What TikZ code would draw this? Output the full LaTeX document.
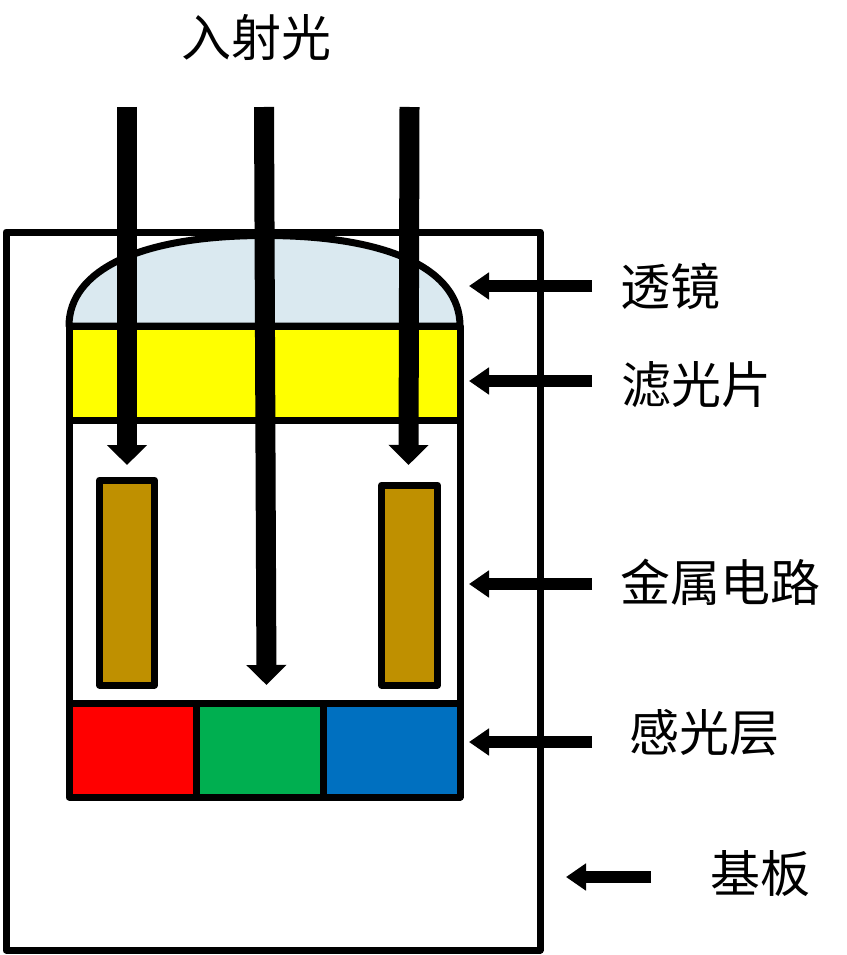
\documentclass[tikz,border=0pt]{standalone}
\usepackage{fontspec}
\setmainfont{Noto Sans CJK SC}
\usetikzlibrary{arrows.meta}
\definecolor{lensc}{HTML}{DAE9F0}
\definecolor{metalc}{HTML}{BF9000}
\definecolor{greenc}{HTML}{00AF50}
\definecolor{bluec}{HTML}{0070C0}
\definecolor{filterc}{HTML}{FFFF00}
\definecolor{redc}{HTML}{FF0000}
\tikzset{
  part/.style={draw=black,line width=7pt,line join=round},
  ray/.style={line width=20pt,-{Triangle[width=39pt,length=20pt]}},
  pointer/.style={line width=12pt,-{Triangle[width=26pt,length=20pt]}},
  lbl/.style={inner sep=0pt,font=\fontsize{50pt}{50pt}\selectfont,text=black}
}
\begin{document}
\begin{tikzpicture}[x=1pt,y=-1pt]
\useasboundingbox (0,0) rectangle (846,955);
\fill[white] (0,0) rectangle (846,955);
% substrate
\node[part,fill=white,minimum width=534pt,minimum height=718pt,inner sep=0pt] (substrate) at (273,591) {};
% lens, filter, cavity
\draw[part,fill=lensc] (69,326) .. controls (69,270) and (140,235.5) .. (265,235.5) .. controls (390,235.5) and (460,270) .. (460,326) -- cycle;
\draw[part,fill=filterc] (69,326) rectangle (460,420);
\draw[part] (69,420) rectangle (460,703);
% metal
\node[part,fill=metalc,minimum width=55pt,minimum height=205pt,inner sep=0pt] (metalL) at (127,582.5) {};
\node[part,fill=metalc,minimum width=56pt,minimum height=200pt,inner sep=0pt] (metalR) at (409.5,585) {};
% sensors
\draw[part,fill=redc] (69,703) rectangle (196,797);
\draw[part,fill=greenc] (196,703) rectangle (323,797);
\draw[part,fill=bluec] (323,703) rectangle (460,797);
% rays
\node[lbl] (title) at (256,38) {入射光};
\coordinate (r1a) at (127,107); \coordinate (r1b) at (127,465);
\coordinate (r2a) at (264,107); \coordinate (r2b) at (266.5,685);
\coordinate (r3a) at (409.5,107); \coordinate (r3b) at (408.5,465);
\draw[ray] (r1a) -- (r1b);
\draw[ray] (r2a) -- (r2b);
\draw[ray] (r3a) -- (r3b);
% labels
\node[lbl] (l1) at (670,286) {透镜};
\node[lbl] (l2) at (696.5,385) {滤光片};
\node[lbl] (l3) at (720,582) {金属电路};
\node[lbl] (l4) at (704.5,733) {感光层};
\node[lbl] (l5) at (760,874) {基板};
\coordinate (p1a) at (592,286); \coordinate (p1b) at (469,286);
\coordinate (p2a) at (592,381); \coordinate (p2b) at (469,381);
\coordinate (p3a) at (592,584); \coordinate (p3b) at (469,584);
\coordinate (p4a) at (592,742); \coordinate (p4b) at (469,742);
\coordinate (p5a) at (651,877); \coordinate (p5b) at (566,877);
\draw[pointer] (p1a) -- (p1b);
\draw[pointer] (p2a) -- (p2b);
\draw[pointer] (p3a) -- (p3b);
\draw[pointer] (p4a) -- (p4b);
\draw[pointer] (p5a) -- (p5b);
\end{tikzpicture}
\end{document}
